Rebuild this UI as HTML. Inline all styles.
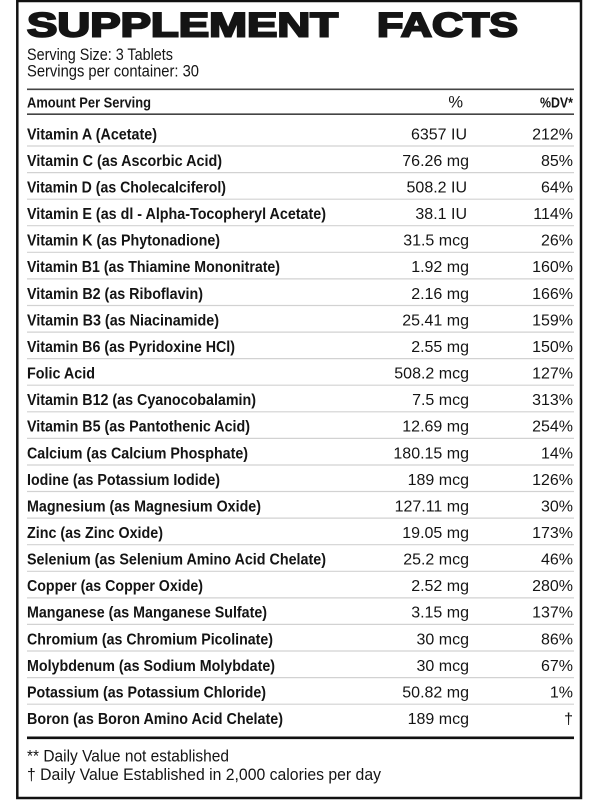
<!DOCTYPE html>
<html>
<head>
<meta charset="utf-8">
<style>
  html,body{margin:0;padding:0;background:#fff;}
  svg{display:block;}
  text{font-family:"Liberation Sans", Arial, sans-serif; fill:#141414;}
  .lbl{font-weight:bold;font-size:16px;}
  .amt{font-size:16px;}
  .pct{font-size:16px;}
</style>
</head>
<body>
<svg width="600" height="800" viewBox="0 0 600 800" xmlns="http://www.w3.org/2000/svg">
  <rect x="0" y="0" width="600" height="800" fill="#fff"/>
  <rect x="17.3" y="1" width="563.7" height="797" fill="none" stroke="#111" stroke-width="2.5"/>

  <text x="27" y="36.6" font-size="34" font-weight="bold" stroke="#141414" stroke-width="2" textLength="311" lengthAdjust="spacingAndGlyphs">SUPPLEMENT</text>
  <text x="377" y="36.6" font-size="34" font-weight="bold" stroke="#141414" stroke-width="2" textLength="141" lengthAdjust="spacingAndGlyphs">FACTS</text>

  <text x="27" y="60" font-size="16.5" textLength="146" lengthAdjust="spacingAndGlyphs">Serving Size: 3 Tablets</text>
  <text x="27" y="76.5" font-size="16.5" textLength="172" lengthAdjust="spacingAndGlyphs">Servings per container: 30</text>

  <line x1="27" y1="89.3" x2="574" y2="89.3" stroke="#444" stroke-width="1.6"/>

  <text x="27" y="107.3" font-size="15" font-weight="bold" textLength="124" lengthAdjust="spacingAndGlyphs">Amount Per Serving</text>
  <text x="463" y="107.5" font-size="16.5" text-anchor="end">%</text>
  <text x="540" y="107.5" font-size="14.5" font-weight="bold" textLength="33" lengthAdjust="spacingAndGlyphs">%DV*</text>

  <line x1="27" y1="114.2" x2="574" y2="114.2" stroke="#444" stroke-width="1.6"/>

  <g stroke="#d2d2d2" stroke-width="1.2">
    <line x1="27" y1="146" x2="574" y2="146"/>
    <line x1="27" y1="172.6" x2="574" y2="172.6"/>
    <line x1="27" y1="199.2" x2="574" y2="199.2"/>
    <line x1="27" y1="225.7" x2="574" y2="225.7"/>
    <line x1="27" y1="252.3" x2="574" y2="252.3"/>
    <line x1="27" y1="278.9" x2="574" y2="278.9"/>
    <line x1="27" y1="305.5" x2="574" y2="305.5"/>
    <line x1="27" y1="332.1" x2="574" y2="332.1"/>
    <line x1="27" y1="358.6" x2="574" y2="358.6"/>
    <line x1="27" y1="385.2" x2="574" y2="385.2"/>
    <line x1="27" y1="411.8" x2="574" y2="411.8"/>
    <line x1="27" y1="438.4" x2="574" y2="438.4"/>
    <line x1="27" y1="465" x2="574" y2="465"/>
    <line x1="27" y1="491.5" x2="574" y2="491.5"/>
    <line x1="27" y1="518.1" x2="574" y2="518.1"/>
    <line x1="27" y1="544.7" x2="574" y2="544.7"/>
    <line x1="27" y1="571.3" x2="574" y2="571.3"/>
    <line x1="27" y1="597.9" x2="574" y2="597.9"/>
    <line x1="27" y1="624.4" x2="574" y2="624.4"/>
    <line x1="27" y1="651" x2="574" y2="651"/>
    <line x1="27" y1="677.6" x2="574" y2="677.6"/>
    <line x1="27" y1="704.2" x2="574" y2="704.2"/>
  </g>

  <g>
    <text class="lbl" x="27" y="139.3" textLength="130" lengthAdjust="spacingAndGlyphs">Vitamin A (Acetate)</text>
    <text class="lbl" x="27" y="165.9" textLength="195" lengthAdjust="spacingAndGlyphs">Vitamin C (as Ascorbic Acid)</text>
    <text class="lbl" x="27" y="192.5" textLength="199" lengthAdjust="spacingAndGlyphs">Vitamin D (as Cholecalciferol)</text>
    <text class="lbl" x="27" y="219" textLength="299" lengthAdjust="spacingAndGlyphs">Vitamin E (as dl - Alpha-Tocopheryl Acetate)</text>
    <text class="lbl" x="27" y="245.6" textLength="193" lengthAdjust="spacingAndGlyphs">Vitamin K (as Phytonadione)</text>
    <text class="lbl" x="27" y="272.2" textLength="253" lengthAdjust="spacingAndGlyphs">Vitamin B1 (as Thiamine Mononitrate)</text>
    <text class="lbl" x="27" y="298.8" textLength="176" lengthAdjust="spacingAndGlyphs">Vitamin B2 (as Riboflavin)</text>
    <text class="lbl" x="27" y="325.4" textLength="192" lengthAdjust="spacingAndGlyphs">Vitamin B3 (as Niacinamide)</text>
    <text class="lbl" x="27" y="351.9" textLength="208" lengthAdjust="spacingAndGlyphs">Vitamin B6 (as Pyridoxine HCl)</text>
    <text class="lbl" x="27" y="378.5" textLength="68" lengthAdjust="spacingAndGlyphs">Folic Acid</text>
    <text class="lbl" x="27" y="405.1" textLength="229" lengthAdjust="spacingAndGlyphs">Vitamin B12 (as Cyanocobalamin)</text>
    <text class="lbl" x="27" y="431.7" textLength="223" lengthAdjust="spacingAndGlyphs">Vitamin B5 (as Pantothenic Acid)</text>
    <text class="lbl" x="27" y="458.3" textLength="221" lengthAdjust="spacingAndGlyphs">Calcium (as Calcium Phosphate)</text>
    <text class="lbl" x="27" y="484.8" textLength="193" lengthAdjust="spacingAndGlyphs">Iodine (as Potassium Iodide)</text>
    <text class="lbl" x="27" y="511.4" textLength="234" lengthAdjust="spacingAndGlyphs">Magnesium (as Magnesium Oxide)</text>
    <text class="lbl" x="27" y="538" textLength="136" lengthAdjust="spacingAndGlyphs">Zinc (as Zinc Oxide)</text>
    <text class="lbl" x="27" y="564.6" textLength="299" lengthAdjust="spacingAndGlyphs">Selenium (as Selenium Amino Acid Chelate)</text>
    <text class="lbl" x="27" y="591.2" textLength="176" lengthAdjust="spacingAndGlyphs">Copper (as Copper Oxide)</text>
    <text class="lbl" x="27" y="617.7" textLength="240" lengthAdjust="spacingAndGlyphs">Manganese (as Manganese Sulfate)</text>
    <text class="lbl" x="27" y="644.3" textLength="246" lengthAdjust="spacingAndGlyphs">Chromium (as Chromium Picolinate)</text>
    <text class="lbl" x="27" y="670.9" textLength="248" lengthAdjust="spacingAndGlyphs">Molybdenum (as Sodium Molybdate)</text>
    <text class="lbl" x="27" y="697.5" textLength="239" lengthAdjust="spacingAndGlyphs">Potassium (as Potassium Chloride)</text>
    <text class="lbl" x="27" y="724.1" textLength="256" lengthAdjust="spacingAndGlyphs">Boron (as Boron Amino Acid Chelate)</text>
  </g>

  <g text-anchor="end">
    <text class="amt" x="467" y="139.3">6357 IU</text>
    <text class="amt" x="469" y="165.9">76.26 mg</text>
    <text class="amt" x="467" y="192.5">508.2 IU</text>
    <text class="amt" x="467" y="219">38.1 IU</text>
    <text class="amt" x="469" y="245.6">31.5 mcg</text>
    <text class="amt" x="469" y="272.2">1.92 mg</text>
    <text class="amt" x="469" y="298.8">2.16 mg</text>
    <text class="amt" x="469" y="325.4">25.41 mg</text>
    <text class="amt" x="469" y="351.9">2.55 mg</text>
    <text class="amt" x="469" y="378.5">508.2 mcg</text>
    <text class="amt" x="469" y="405.1">7.5 mcg</text>
    <text class="amt" x="469" y="431.7">12.69 mg</text>
    <text class="amt" x="469" y="458.3">180.15 mg</text>
    <text class="amt" x="469" y="484.8">189 mcg</text>
    <text class="amt" x="469" y="511.4">127.11 mg</text>
    <text class="amt" x="469" y="538">19.05 mg</text>
    <text class="amt" x="469" y="564.6">25.2 mcg</text>
    <text class="amt" x="469" y="591.2">2.52 mg</text>
    <text class="amt" x="469" y="617.7">3.15 mg</text>
    <text class="amt" x="469" y="644.3">30 mcg</text>
    <text class="amt" x="469" y="670.9">30 mcg</text>
    <text class="amt" x="469" y="697.5">50.82 mg</text>
    <text class="amt" x="469" y="724.1">189 mcg</text>
  </g>

  <g text-anchor="end">
    <text class="pct" x="573" y="139.3">212%</text>
    <text class="pct" x="573" y="165.9">85%</text>
    <text class="pct" x="573" y="192.5">64%</text>
    <text class="pct" x="573" y="219">114%</text>
    <text class="pct" x="573" y="245.6">26%</text>
    <text class="pct" x="573" y="272.2">160%</text>
    <text class="pct" x="573" y="298.8">166%</text>
    <text class="pct" x="573" y="325.4">159%</text>
    <text class="pct" x="573" y="351.9">150%</text>
    <text class="pct" x="573" y="378.5">127%</text>
    <text class="pct" x="573" y="405.1">313%</text>
    <text class="pct" x="573" y="431.7">254%</text>
    <text class="pct" x="573" y="458.3">14%</text>
    <text class="pct" x="573" y="484.8">126%</text>
    <text class="pct" x="573" y="511.4">30%</text>
    <text class="pct" x="573" y="538">173%</text>
    <text class="pct" x="573" y="564.6">46%</text>
    <text class="pct" x="573" y="591.2">280%</text>
    <text class="pct" x="573" y="617.7">137%</text>
    <text class="pct" x="573" y="644.3">86%</text>
    <text class="pct" x="573" y="670.9">67%</text>
    <text class="pct" x="573" y="697.5">1%</text>
    <text class="pct" x="573" y="724.1">†</text>
  </g>

  <line x1="27" y1="737.8" x2="574" y2="737.8" stroke="#111" stroke-width="2.6"/>

  <text x="27" y="761.6" font-size="16.5" textLength="202" lengthAdjust="spacingAndGlyphs">** Daily Value not established</text>
  <text x="27" y="780.2" font-size="16.5" textLength="354" lengthAdjust="spacingAndGlyphs">† Daily Value Established in 2,000 calories per day</text>
</svg>
</body>
</html>
